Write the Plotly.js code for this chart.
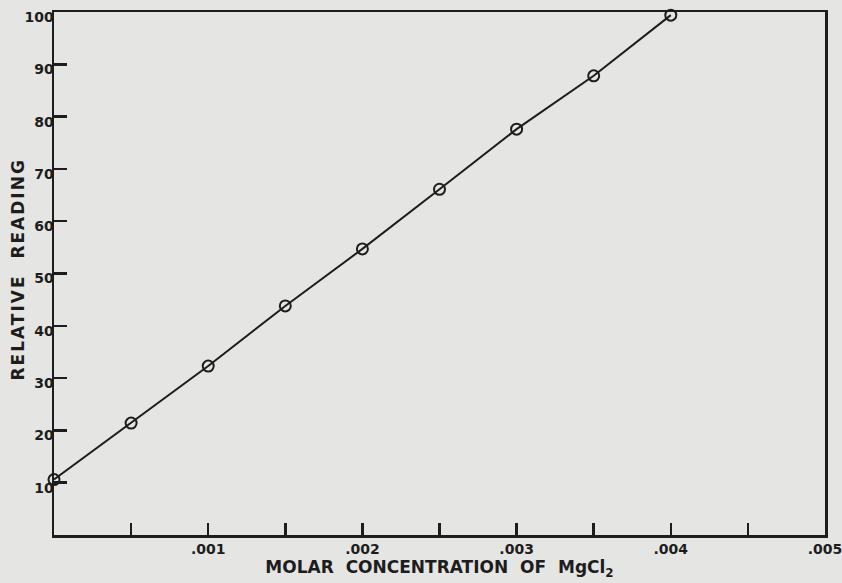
<!DOCTYPE html>
<html>
<head>
<meta charset="utf-8">
<script src="https://cdn.plot.ly/plotly-3.0.1.min.js"></script>
<style>
  html, body { margin: 0; padding: 0; background: #e5e5e3; }
  #chart { width: 842px; height: 583px; }
</style>
</head>
<body>
<div id="chart"></div>
<script>
// Data
const concentration = [0, 0.0005, 0.001, 0.0015, 0.002, 0.0025, 0.003, 0.0035, 0.004];
const relativeReading = [10.6, 21.4, 32.3, 43.8, 54.7, 66.1, 77.6, 87.8, 99.4];

const xTickVals = [0.001, 0.002, 0.003, 0.004, 0.005];
const xTickText = ['.001', '.002', '.003', '.004', '.005'];
const xMinorTickVals = [0.0005, 0.0015, 0.0025, 0.0035, 0.0045];
const yTickVals = [10, 20, 30, 40, 50, 60, 70, 80, 90, 100];
const yTickText = ['10', '20', '30', '40', '50', '60', '70', '80', '90', '100'];

const xTitle = 'MOLAR  CONCENTRATION  OF  MgCl<sub>2</sub>';
const yTitle = 'RELATIVE  READING';

const ink = '#1d1d1d';
const fontFamily = 'DejaVu Sans, Liberation Sans, sans-serif';

const trace = {
  x: concentration,
  y: relativeReading,
  type: 'scatter',
  mode: 'lines+markers',
  line: { color: ink, width: 2 },
  marker: { symbol: 'circle-open', size: 11, color: ink, line: { color: ink, width: 2 } },
  cliponaxis: false,
  hoverinfo: 'x+y'
};

const layout = {
  width: 842,
  height: 583,
  margin: { l: 54, r: 17, t: 12, b: 48 },
  paper_bgcolor: '#e5e5e3',
  plot_bgcolor: '#e5e5e3',
  showlegend: false,
  font: { family: fontFamily, color: ink },
  xaxis: {
    range: [0, 0.005],
    tickmode: 'array',
    tickvals: xTickVals,
    ticktext: xTickText,
    ticks: 'inside',
    ticklen: 12,
    tickwidth: 2.5,
    tickcolor: ink,
    ticklabeloverflow: 'allow',
    minor: {
      tickmode: 'array',
      tickvals: xMinorTickVals,
      ticks: 'inside',
      ticklen: 12,
      tickwidth: 2.5,
      tickcolor: ink,
      showgrid: false
    },
    showline: true,
    linecolor: ink,
    linewidth: 2.5,
    mirror: true,
    showgrid: false,
    zeroline: false,
    tickfont: { family: fontFamily, size: 14, weight: 'bold', color: ink },
    title: {
      text: xTitle,
      font: { family: fontFamily, size: 17, weight: 'bold', color: ink },
      standoff: 4
    }
  },
  yaxis: {
    range: [0, 100],
    tickmode: 'array',
    tickvals: yTickVals,
    ticktext: yTickText,
    ticks: 'inside',
    ticklen: 13,
    tickwidth: 2.5,
    tickcolor: ink,
    ticklabelshift: 5,
    ticklabelstandoff: -5,
    ticklabeloverflow: 'allow',
    showline: true,
    linecolor: ink,
    linewidth: 2.5,
    mirror: true,
    showgrid: false,
    zeroline: false,
    tickfont: { family: fontFamily, size: 14, weight: 'bold', color: ink }
  },
  annotations: [{
    text: yTitle,
    textangle: -90,
    xref: 'paper',
    yref: 'paper',
    x: 0,
    y: 0.5,
    xanchor: 'center',
    yanchor: 'middle',
    xshift: -37,
    yshift: 4,
    showarrow: false,
    font: { family: fontFamily, size: 17, weight: 'bold', color: ink }
  }]
};

Plotly.newPlot('chart', [trace], layout, { displayModeBar: false, staticPlot: true }).then(function () {
  document.querySelectorAll('.annotation-text').forEach(function (t) {
    t.style.letterSpacing = '2px';
  });
});
</script>
</body>
</html>
